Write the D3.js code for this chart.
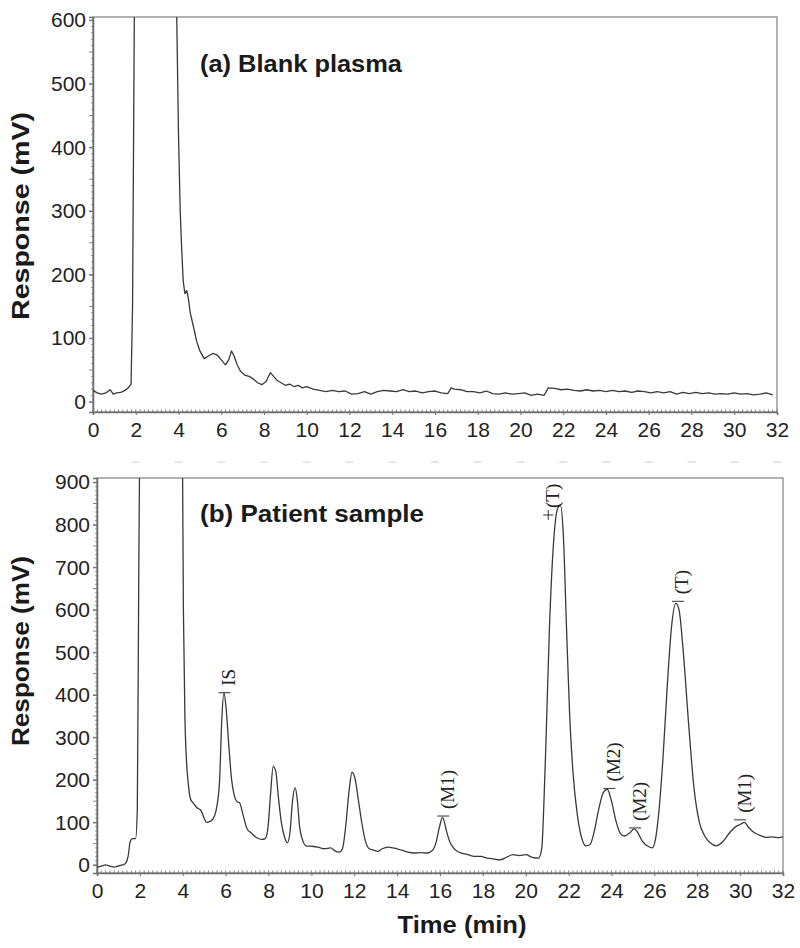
<!DOCTYPE html>
<html>
<head>
<meta charset="utf-8">
<script src="https://cdn.jsdelivr.net/npm/d3@7"></script>
<style>
  html, body { margin: 0; padding: 0; background: #fff; }
  svg { display: block; }
</style>
</head>
<body>
<svg id="chart" width="800" height="948"></svg>
<script>
// ---------------- DATA ----------------
const xTickLabels = [0, 2, 4, 6, 8, 10, 12, 14, 16, 18, 20, 22, 24, 26, 28, 30, 32];
const yTicksA = [0, 100, 200, 300, 400, 500, 600];
const yTicksB = [0, 100, 200, 300, 400, 500, 600, 700, 800, 900];

// (a) Blank plasma trace: time (min), response (mV)
const timeA = [0, 0.2, 0.4, 0.6, 0.8, 0.95, 1.1, 1.3, 1.5, 1.65, 1.78, 1.85, 1.9, 1.95, 2.2, 3.6, 3.85, 3.92, 4.0, 4.08,
  4.15, 4.22, 4.3, 4.38, 4.45, 4.55, 4.7, 4.85, 5.0, 5.2, 5.4, 5.6, 5.8, 6.0, 6.2, 6.35, 6.48, 6.6, 6.75, 6.9,
  7.1, 7.3, 7.5, 7.7, 7.9, 8.1, 8.3, 8.45, 8.6, 8.8, 9.0, 9.2, 9.4, 9.6, 9.8, 10.0, 10.3, 10.6, 10.9, 11.2,
  11.5, 11.8, 12.1, 12.4, 12.7, 13.0, 13.3, 13.6, 13.9, 14.2, 14.5, 14.8, 15.1, 15.4, 15.7, 16.0, 16.3, 16.6, 16.75, 16.9,
  17.2, 17.5, 17.8, 18.1, 18.4, 18.7, 19.0, 19.3, 19.6, 19.9, 20.2, 20.5, 20.8, 21.1, 21.3, 21.6, 21.9, 22.2, 22.5, 22.8,
  23.1, 23.4, 23.7, 24.0, 24.3, 24.6, 24.9, 25.2, 25.5, 25.8, 26.1, 26.4, 26.7, 27.0, 27.3, 27.6, 27.9, 28.2, 28.5, 28.8,
  29.1, 29.4, 29.7, 30.0, 30.3, 30.6, 30.9, 31.2, 31.5, 31.8];
const respA = [18, 14, 12, 14, 19, 12, 14, 15, 18, 22, 28, 150, 420, 700, 1200, 1200, 700, 600, 420, 300,
  240, 190, 170, 175, 165, 140, 118, 95, 80, 68, 72, 76, 74, 66, 58, 66, 80, 72, 58, 48,
  42, 40, 36, 30, 27, 32, 46, 40, 34, 30, 26, 28, 24, 26, 22, 24, 20, 18, 16, 18,
  16, 17, 12, 13, 16, 12, 16, 18, 17, 16, 19, 16, 17, 14, 16, 17, 14, 13, 22, 20,
  19, 16, 16, 14, 17, 13, 12, 14, 12, 13, 14, 10, 12, 10, 22, 21, 19, 20, 18, 17,
  19, 17, 18, 16, 18, 16, 17, 15, 17, 16, 14, 16, 14, 16, 12, 15, 13, 15, 13, 14,
  12, 13, 12, 14, 12, 13, 11, 12, 14, 11];

// (b) Patient sample trace
const timeB = [0, 0.2, 0.4, 0.6, 0.8, 1.0, 1.2, 1.35, 1.45, 1.55, 1.65, 1.8, 1.88, 1.95, 2.05, 3.95, 4.03, 4.1, 4.18, 4.26,
  4.36, 4.5, 4.65, 4.85, 5.0, 5.1, 5.3, 5.48, 5.6, 5.72, 5.82, 5.92, 6.02, 6.15, 6.28, 6.42, 6.55, 6.65, 6.8, 7.0,
  7.2, 7.45, 7.7, 7.85, 7.98, 8.1, 8.22, 8.34, 8.46, 8.6, 8.75, 8.88, 9.0, 9.12, 9.24, 9.35, 9.45, 9.58, 9.75, 10.0,
  10.3, 10.6, 10.9, 11.1, 11.3, 11.45, 11.6, 11.75, 11.9, 12.05, 12.2, 12.35, 12.5, 12.7, 12.9, 13.1, 13.3, 13.6, 13.8, 14.0,
  14.2, 14.5, 14.8, 15.1, 15.4, 15.6, 15.8, 15.98, 16.12, 16.3, 16.45, 16.6, 16.8, 17.0, 17.3, 17.6, 17.9, 18.2, 18.5, 18.8,
  19.1, 19.4, 19.7, 20.0, 20.3, 20.6, 20.75, 20.85, 20.95, 21.1, 21.3, 21.5, 21.62, 21.75, 21.9, 22.05, 22.2, 22.4, 22.6, 22.8,
  23.0, 23.2, 23.4, 23.6, 23.8, 24.0, 24.2, 24.4, 24.6, 24.85, 25.05, 25.2, 25.45, 25.7, 25.9, 26.05, 26.2, 26.4, 26.6, 26.8,
  27.0, 27.15, 27.35, 27.6, 27.85, 28.1, 28.35, 28.6, 28.9, 29.2, 29.5, 29.8, 30.0, 30.2, 30.4, 30.6, 30.9, 31.2, 31.5, 31.8, 32.0];
const respB = [-5, -3, 0, -3, -5, -2, 0, 5, 20, 55, 62, 62, 130, 700, 1200, 1200, 600, 350, 240, 190,
  155, 145, 135, 128, 110, 100, 103, 115, 140, 200, 340, 405, 370, 280, 200, 160, 148, 146, 120, 85,
  75, 64, 60, 62, 90, 170, 232, 220, 160, 100, 65, 52, 75, 150, 182, 150, 90, 60, 45, 44,
  42, 38, 40, 33, 30, 38, 90, 170, 218, 200, 150, 100, 60, 38, 35, 32, 38, 42, 40, 38,
  35, 30, 28, 29, 28, 32, 50, 90, 112, 80, 55, 42, 32, 28, 24, 20, 20, 16, 14, 12,
  18, 24, 22, 24, 18, 16, 40, 150, 300, 550, 760, 840, 845, 780, 560, 350, 220, 120, 65, 45,
  48, 80, 130, 168, 178, 150, 105, 75, 68, 75, 85, 78, 55, 44, 40, 60, 120, 250, 420, 560,
  615, 600, 500, 330, 180, 100, 68, 52, 45, 55, 75, 90, 95, 100, 88, 78, 70, 65, 66, 64, 66];

// Peak annotations (b)
const annLabels = ["IS", "(M1)", "(T)", "(M2)", "(M2)", "(T)", "(M1)"];
const annTimes  = [5.95, 16.15, 21.05, 23.9, 25.1, 27.1, 30.0];
const annValues = [405, 115, 823, 180, 87, 620, 106];
const annMarks  = ["-", "-", "+", "-", "-", "-", "-"];

// ---------------- DRAWING ----------------
const svg = d3.select("#chart");
const sansFont = "'Liberation Sans', Arial, Helvetica, sans-serif";
const serifFont = "'Liberation Serif', 'Times New Roman', serif";
const traceColor = "#3a3a3a";
const axisColor = "#6e6e6e";

function panel(opts) {
  const x = d3.scaleLinear().domain([0, 32]).range([opts.left, opts.right]);
  const y = d3.scaleLinear().domain(opts.yDomain).range([opts.bottom, opts.top]);
  const g = svg.append("g");

  const clipId = "clip-" + opts.id;
  svg.append("defs").append("clipPath").attr("id", clipId)
    .append("rect")
    .attr("x", opts.left).attr("y", opts.top)
    .attr("width", opts.right - opts.left).attr("height", opts.bottom - opts.top);

  // frame
  g.append("rect")
    .attr("x", opts.left).attr("y", opts.top)
    .attr("width", opts.right - opts.left).attr("height", opts.bottom - opts.top)
    .attr("fill", "none").attr("stroke", "#8a8a8a").attr("stroke-width", 1.3);

  // minor x ticks (inside, dotted look)
  const minorX = d3.range(0, 32.01, 0.2);
  g.append("g").selectAll("line").data(minorX).join("line")
    .attr("x1", d => x(d)).attr("x2", d => x(d))
    .attr("y1", opts.bottom).attr("y2", opts.bottom - 2.5)
    .attr("stroke", "#777").attr("stroke-width", 0.9);

  // minor y ticks
  const minorY = d3.range(0, opts.yDomain[1], 10);
  g.append("g").selectAll("line").data(minorY).join("line")
    .attr("x1", opts.left).attr("x2", d => opts.left - (d % 50 === 0 ? 4 : 1.8))
    .attr("y1", d => y(d)).attr("y2", d => y(d))
    .attr("stroke", "#777").attr("stroke-width", 0.9);

  // x axis
  const xAxis = d3.axisBottom(x).tickValues(xTickLabels).tickSize(3).tickPadding(7).tickFormat(d3.format("d"));
  const xa = g.append("g").attr("transform", `translate(0,${opts.bottom})`).call(xAxis);
  xa.select(".domain").attr("stroke", axisColor).attr("stroke-width", 1.6);
  xa.selectAll(".tick line").attr("stroke", axisColor);
  xa.selectAll(".tick text").attr("font-family", sansFont).attr("font-size", 21).attr("fill", "#222");

  // y axis
  const yAxis = d3.axisLeft(y).tickValues(opts.yTicks).tickSize(4).tickPadding(3).tickFormat(d3.format("d"));
  const ya = g.append("g").attr("transform", `translate(${opts.left},0)`).call(yAxis);
  ya.select(".domain").attr("stroke", axisColor).attr("stroke-width", 1.6);
  ya.selectAll(".tick line").attr("stroke", axisColor);
  ya.selectAll(".tick text").attr("font-family", sansFont).attr("font-size", 21).attr("fill", "#222");

  // trace
  const pts = opts.times.map((t, i) => [t, opts.values[i]]);
  g.append("path")
    .datum(pts)
    .attr("clip-path", `url(#${clipId})`)
    .attr("fill", "none")
    .attr("stroke", traceColor)
    .attr("stroke-width", 1.3)
    .attr("stroke-linejoin", "round")
    .attr("d", d3.line().x(d => x(d[0])).y(d => y(d[1])).curve(opts.curve));

  // panel label
  g.append("text")
    .attr("x", opts.labelX).attr("y", opts.labelY)
    .attr("font-family", sansFont).attr("font-weight", "bold").attr("font-size", 23)
    .attr("textLength", opts.labelLen).attr("lengthAdjust", "spacingAndGlyphs")
    .attr("fill", "#1a1a1a")
    .text(opts.label);

  // y title
  g.append("text")
    .attr("transform", `translate(20,${opts.titleY}) rotate(-90)`)
    .attr("text-anchor", "middle").attr("dominant-baseline", "central")
    .attr("font-family", sansFont).attr("font-weight", "bold").attr("font-size", 24)
    .attr("textLength", opts.titleLen).attr("lengthAdjust", "spacingAndGlyphs")
    .attr("fill", "#1a1a1a")
    .text("Response (mV)");

  return { x, y, g };
}

const A = panel({
  id: "a", left: 93, right: 777, top: 17, bottom: 412,
  yDomain: [-16, 605], yTicks: yTicksA,
  times: timeA, values: respA, curve: d3.curveLinear,
  label: "(a) Blank plasma", labelX: 200, labelY: 72, labelLen: 202,
  titleY: 216, titleLen: 208
});

// faint remnants of cropped labels between the panels
svg.append("g").selectAll("line").data(xTickLabels.slice(1)).join("line")
  .attr("x1", d => A.x(d) - 4).attr("x2", d => A.x(d) + 4)
  .attr("y1", 462).attr("y2", 462)
  .attr("stroke", "#d4d4d4").attr("stroke-width", 1.2);

const B = panel({
  id: "b", left: 97, right: 783, top: 478, bottom: 873,
  yDomain: [-19, 910], yTicks: yTicksB,
  times: timeB, values: respB, curve: d3.curveMonotoneX,
  label: "(b) Patient sample", labelX: 200, labelY: 522, labelLen: 224,
  titleY: 651, titleLen: 190
});

// annotations
const ann = B.g.append("g");
annLabels.forEach((lab, i) => {
  const px = B.x(annTimes[i]);
  const py = B.y(annValues[i]);
  if (annMarks[i] === "+") {
    ann.append("line").attr("x1", px - 5).attr("x2", px + 5).attr("y1", py).attr("y2", py)
      .attr("stroke", "#333").attr("stroke-width", 1);
    ann.append("line").attr("x1", px).attr("x2", px).attr("y1", py - 5).attr("y2", py + 5)
      .attr("stroke", "#333").attr("stroke-width", 1);
  } else {
    ann.append("line").attr("x1", px - 6).attr("x2", px + 6).attr("y1", py).attr("y2", py)
      .attr("stroke", "#333").attr("stroke-width", 1);
  }
  ann.append("text")
    .attr("transform", `translate(${px + 4},${py - 7}) rotate(-90)`)
    .attr("text-anchor", "start").attr("dominant-baseline", "central")
    .attr("font-family", serifFont).attr("font-size", 19).attr("fill", "#222")
    .text(lab);
});

// x title
svg.append("text")
  .attr("x", 462).attr("y", 933)
  .attr("text-anchor", "middle")
  .attr("font-family", sansFont).attr("font-weight", "bold").attr("font-size", 24)
  .attr("textLength", 129).attr("lengthAdjust", "spacingAndGlyphs")
  .attr("fill", "#1a1a1a")
  .text("Time (min)");
</script>
</body>
</html>
